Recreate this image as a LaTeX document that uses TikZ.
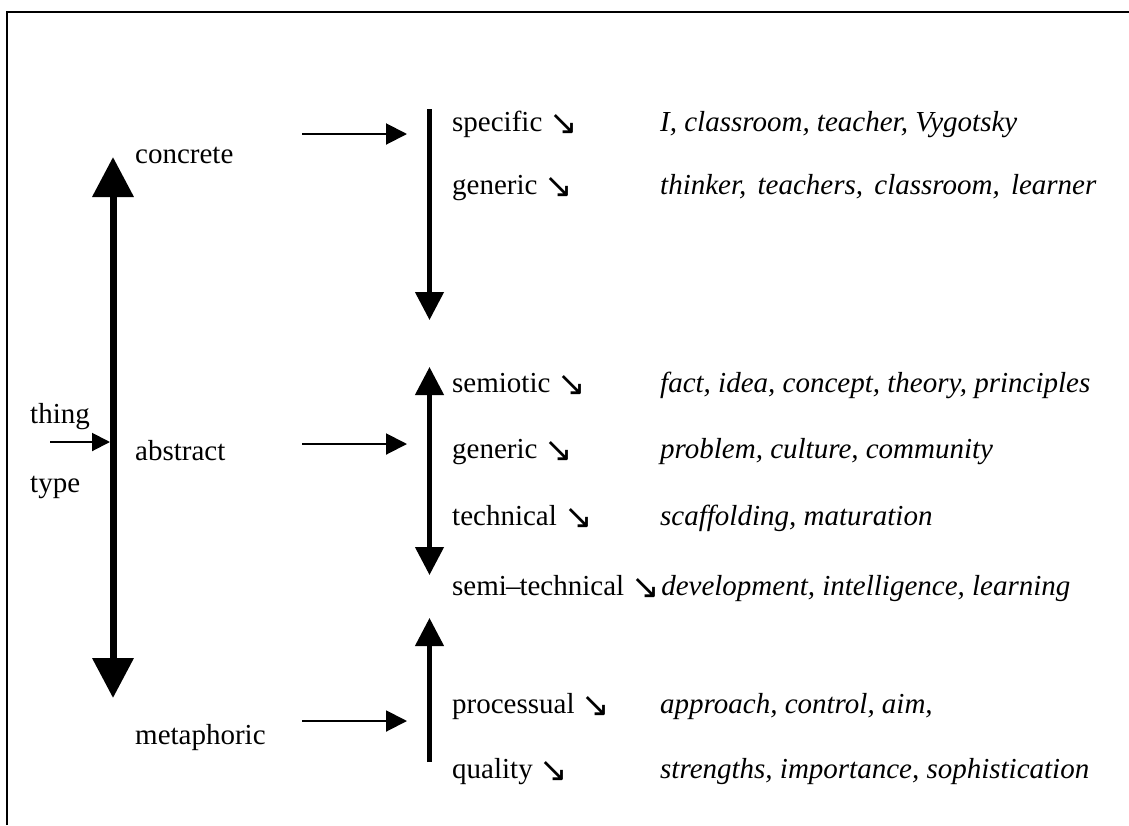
\documentclass[tikz,border=0pt]{standalone}
\usepackage{fontspec}
\setmainfont{Liberation Serif}
\newfontfamily\symfont{DejaVu Sans}
\usetikzlibrary{arrows.meta}
% south-east arrow after each subtype
\newcommand{\sedir}{{\symfont\fontsize{34}{34}\selectfont\raisebox{-3pt}{↘}}}

\begin{document}
\begin{tikzpicture}[x=1pt,y=-1pt,
  lbl/.style={anchor=base west, inner sep=0pt, font=\fontsize{29}{34}\selectfont},
  ex/.style={lbl, font=\fontsize{29}{34}\selectfont\itshape},
  feed/.style={line width=2pt, -{Triangle[length=21pt,width=21pt]}},
  smallfeed/.style={line width=2pt, -{Triangle[length=18pt,width=18pt]}},
  subscale/.style={line width=4.5pt, -{Triangle[length=28pt,width=28pt]}},
  twoscale/.style={line width=4.5pt, {Triangle[length=28pt,width=28pt]}-{Triangle[length=28pt,width=28pt]}},
  mainscale/.style={line width=7pt, {Triangle[length=40pt,width=40pt]}-{Triangle[length=40pt,width=40pt]}}
]
\useasboundingbox (0,0) rectangle (1129,825);

% open frame: top and left edges
\draw[line width=2pt] (7,825) -- (7,12) -- (1129,12);

% left column
\node[lbl] (thing) at (30,423) {thing};
\node[lbl] (type) at (30,492) {type};
\node[lbl] (concrete) at (135,163) {concrete};
\node[lbl] (abstract) at (135,460) {abstract};
\node[lbl] (metaphoric) at (135,744) {metaphoric};

% main concrete--metaphoric scale
\coordinate (maintop) at (113,157);
\coordinate (mainbot) at (113,698);
\draw[mainscale] (maintop) -- (mainbot);
\coordinate (thingstart) at (50,442);
\coordinate (thingend) at (110,442);
\draw[smallfeed] (thingstart) -- (thingend);

% feeds into the subtype scales
\coordinate (f1s) at (302,134); \coordinate (f1e) at (407,134);
\coordinate (f2s) at (302,444); \coordinate (f2e) at (407,444);
\coordinate (f3s) at (302,721); \coordinate (f3e) at (407,721);
\draw[feed] (f1s) -- (f1e);
\draw[feed] (f2s) -- (f2e);
\draw[feed] (f3s) -- (f3e);

% subtype scales
\coordinate (s1top) at (429.5,109); \coordinate (s1bot) at (429.5,320);
\coordinate (s2top) at (429.5,367); \coordinate (s2bot) at (429.5,575);
\coordinate (s3top) at (429.5,618); \coordinate (s3bot) at (429.5,762);
\draw[subscale] (s1top) -- (s1bot);
\draw[twoscale] (s2top) -- (s2bot);
\draw[subscale] (s3bot) -- (s3top);

% subtypes
\node[lbl] (specific) at (452,131) {specific \sedir};
\node[lbl] (generic1) at (452,194) {generic \sedir};
\node[lbl] (semiotic) at (452,392) {semiotic \sedir};
\node[lbl] (generic2) at (452,458) {generic \sedir};
\node[lbl] (technical) at (452,525) {technical \sedir};
\node[lbl] (semitech) at (452,595) {semi\kern-1pt--\kern-1pttechnical \sedir};
\node[lbl] (processual) at (452,713) {processual \sedir};
\node[lbl] (quality) at (452,778) {quality \sedir};

% examples
\node[ex] (exspecific) at (660,131) {I, classroom, teacher, Vygotsky};
\node[ex] (exgeneric1) at (660,194) {thinker,\hspace{4pt} teachers,\hspace{4pt} classroom,\hspace{4pt} learner};
\node[ex] (exsemiotic) at (660,392) {fact, idea, concept, theory, principles};
\node[ex] (exgeneric2) at (660,458) {problem, culture, community};
\node[ex] (extechnical) at (660,525) {scaffolding, maturation};
\node[ex, anchor=base west] (exsemitech) at ([xshift=1pt]semitech.base east) {development, intelligence, learning};
\node[ex] (exprocessual) at (660,713) {approach, control, aim,};
\node[ex] (exquality) at (660,778) {strengths, importance, sophistication};
\end{tikzpicture}
\end{document}
